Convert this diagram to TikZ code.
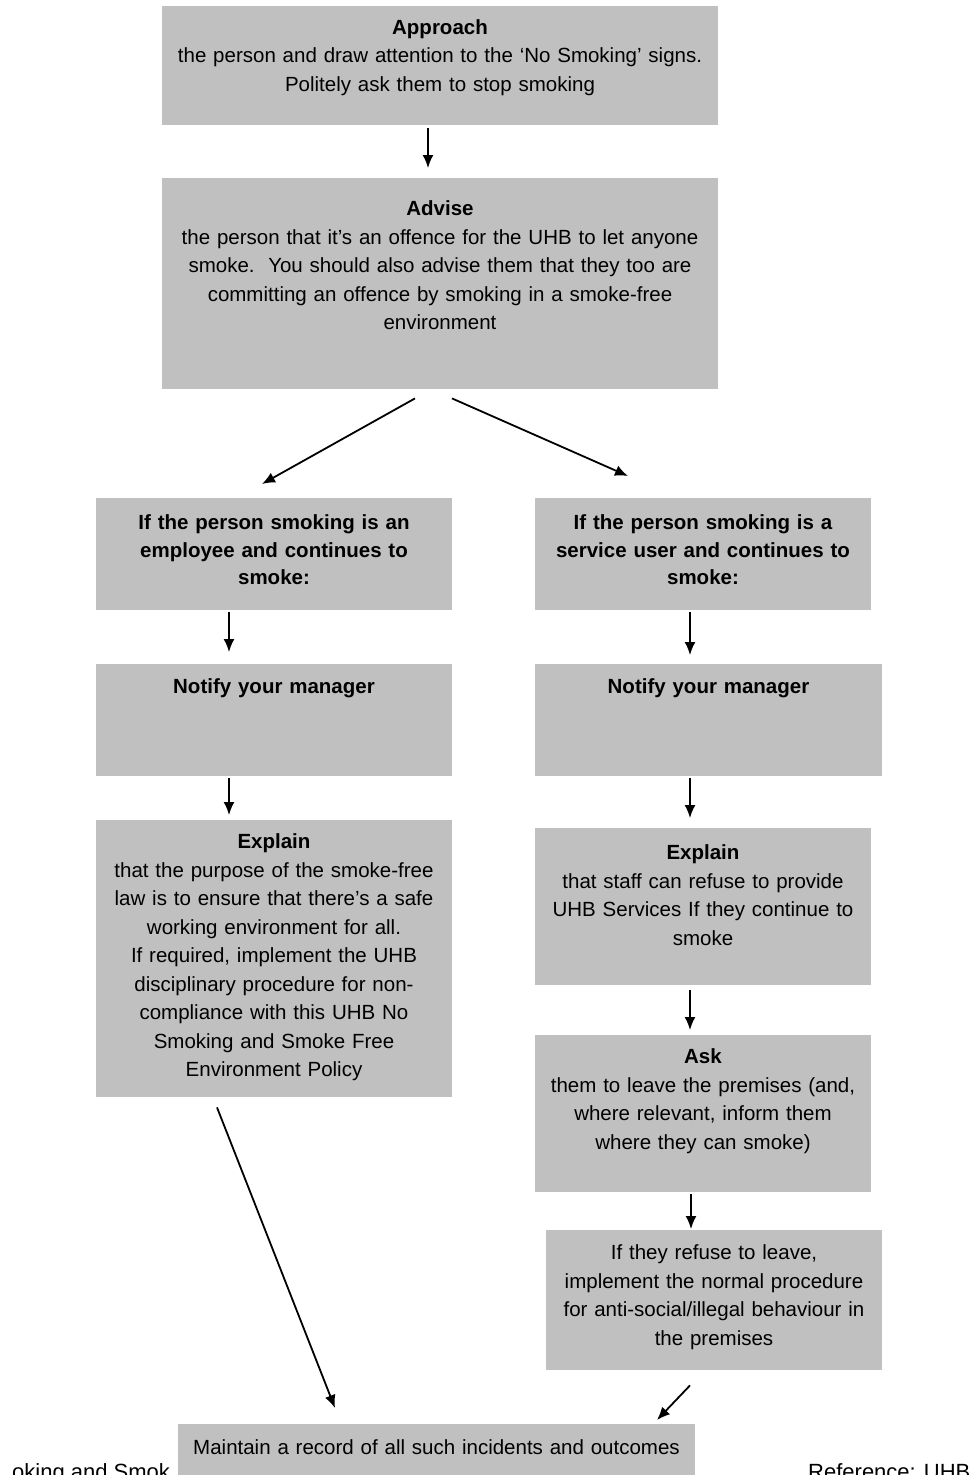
\documentclass[tikz,border=0pt]{standalone}
\usepackage{fontspec}
\setmainfont{Liberation Sans}
\usetikzlibrary{arrows.meta}
\definecolor{boxgray}{RGB}{192,192,192}

\begin{document}
\begin{tikzpicture}[x=1pt,y=-1pt,font=\fontsize{20.5}{28.5}\selectfont,>={Latex[length=13pt,width=11pt]}]
    \tikzset{bx/.style={fill=boxgray,align=center,inner sep=0pt,anchor=north},
             ar/.style={->,line width=1.8pt}}
    \useasboundingbox (0,0) rectangle (969,1475);
    \clip (0,0) rectangle (969,1475);
    % page footer, partly hidden by the last box
    \node[anchor=base west,inner sep=0pt,font=\fontsize{22}{26}\selectfont] (fl) at (12,1479) {oking and Smok};
    \node[anchor=base west,inner sep=0pt,font=\fontsize{22}{26}\selectfont] (fr) at (808,1479) {Reference: UHB};
    \node[bx,text width=556pt,text height=28pt,text depth=91pt] (ap) at (440,6) {\textbf{Approach}\\the person and draw attention to the ‘No Smoking’ signs.\\Politely ask them to stop smoking};
    \node[bx,text width=556pt,text height=37.5pt,text depth=173.5pt] (ad) at (440,178) {\textbf{Advise}\\the person that it’s an offence for the UHB to let anyone\\smoke.\ \ You should also advise them that they too are\\committing an offence by smoking in a smoke-free\\environment};
    \node[bx,text width=356pt,text height=31.5pt,text depth=80.5pt,font=\fontsize{20.5}{27.5}\selectfont\bfseries] (emp) at (274,498) {If the person smoking is an\\employee and continues to\\smoke:};
    \node[bx,text width=336pt,text height=31.5pt,text depth=80.5pt,font=\fontsize{20.5}{27.5}\selectfont\bfseries] (usr) at (703,498) {If the person smoking is a\\service user and continues to\\smoke:};
    \node[bx,text width=356pt,text height=29.5pt,text depth=82.5pt] (nl) at (274,664) {\textbf{Notify your manager}};
    \node[bx,text width=347pt,text height=29.5pt,text depth=82.5pt] (nr) at (708.5,664) {\textbf{Notify your manager}};
    \node[bx,text width=356pt,text height=28.5pt,text depth=248.5pt] (el) at (274,820) {\textbf{Explain}\\that the purpose of the smoke-free\\law is to ensure that there’s a safe\\working environment for all.\\If required, implement the UHB\\disciplinary procedure for non-\\compliance with this UHB No\\Smoking and Smoke Free\\Environment Policy};
    \node[bx,text width=336pt,text height=31.5pt,text depth=125.5pt] (er) at (703,828) {\textbf{Explain}\\that staff can refuse to provide\\UHB Services If they continue to\\smoke};
    \node[bx,text width=336pt,text height=28.5pt,text depth=128.5pt] (ask) at (703,1035) {\textbf{Ask}\\them to leave the premises (and,\\where relevant, inform them\\where they can smoke)};
    \node[bx,text width=336pt,text height=29.5pt,text depth=110.5pt] (ref) at (714,1230) {If they refuse to leave,\\implement the normal procedure\\for anti-social/illegal behaviour in\\the premises};
    \node[bx,text width=517pt,text height=30pt,text depth=60pt] (rec) at (436.5,1424) {Maintain a record of all such incidents and outcomes};
    \draw[ar] ([xshift=-12pt,yshift=-3pt]ap.south) -- ([xshift=-12pt,yshift=10pt]ad.north);
    \draw[ar] ([xshift=-25pt,yshift=-9pt]ad.south) -- ([xshift=-12pt,yshift=14pt]emp.north);
    \draw[ar] ([xshift=12pt,yshift=-9pt]ad.south) -- ([xshift=-75pt,yshift=22pt]usr.north);
    \draw[ar] ([xshift=-45pt,yshift=-2pt]emp.south) -- ([xshift=-45pt,yshift=12pt]nl.north);
    \draw[ar] ([xshift=-45pt,yshift=-2pt]nl.south) -- ([xshift=-45pt,yshift=5pt]el.north);
    \draw[ar] ([xshift=-13pt,yshift=-2pt]usr.south) -- ([xshift=-18.5pt,yshift=9pt]nr.north);
    \draw[ar] ([xshift=-18.5pt,yshift=-2pt]nr.south) -- ([xshift=-13pt,yshift=10pt]er.north);
    \draw[ar] ([xshift=-13pt,yshift=-5pt]er.south) -- ([xshift=-13pt,yshift=5pt]ask.north);
    \draw[ar] ([xshift=-12pt,yshift=-2pt]ask.south) -- ([xshift=-23pt,yshift=1pt]ref.north);
    \draw[ar] ([xshift=-57pt,yshift=-10pt]el.south) -- ([xshift=-101.5pt,yshift=16pt]rec.north);
    \draw[ar] ([xshift=-24pt,yshift=-15pt]ref.south) -- ([xshift=220.5pt,yshift=4pt]rec.north);
\end{tikzpicture}
\end{document}
